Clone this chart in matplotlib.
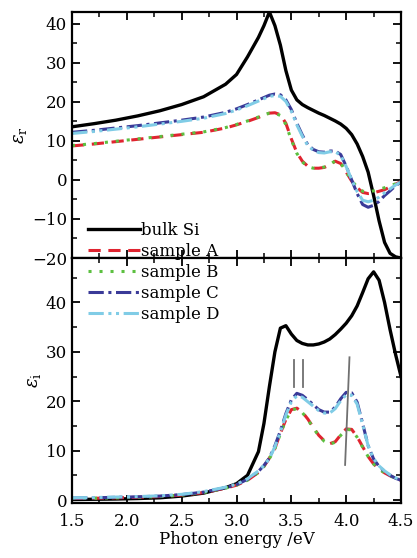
"""Dielectric function of bulk Si and samples A-D (real and imaginary parts)."""

import matplotlib

matplotlib.use("Agg")
import matplotlib.pyplot as plt  # noqa: E402
from matplotlib.ticker import MultipleLocator  # noqa: E402

# photon energy grid (eV) shared by all series
energy = [1.5, 1.7, 1.9, 2.1, 2.3, 2.5, 2.7, 2.9, 3.0, 3.1, 3.2, 3.25, 3.3, 3.35,
          3.4, 3.45, 3.5, 3.55, 3.6, 3.65, 3.7, 3.75, 3.8, 3.85, 3.9, 3.95, 4.0,
          4.05, 4.1, 4.15, 4.2, 4.25, 4.3, 4.35, 4.4, 4.45, 4.5]

# real part
er_bulk = [13.6, 14.4, 15.3, 16.4, 17.7, 19.3, 21.3, 24.5, 27.0, 31.5, 36.5, 39.5, 43.0, 39.5,
           34.5, 28.0, 23.0, 20.5, 19.3, 18.5, 17.8, 17.1, 16.5, 15.8, 15.1, 14.3, 13.2,
           11.6, 9.2, 6.0, 2.0, -4.0, -10.5, -16.0, -18.8, -19.7, -20.0]
er_a = [8.7, 9.2, 9.8, 10.4, 11.0, 11.6, 12.2, 13.3, 14.1, 15.0, 16.0, 16.6, 17.1, 17.2,
        16.7, 14.5, 10.5, 7.0, 4.8, 3.5, 3.0, 3.0, 3.2, 3.8, 4.8, 4.2, 2.0,
        -0.3, -2.0, -3.2, -3.5, -3.3, -2.9, -2.5, -1.8, -1.1, -0.4]
er_b = [8.8, 9.3, 9.9, 10.5, 11.1, 11.7, 12.3, 13.4, 14.2, 15.1, 16.1, 16.7, 17.1, 17.1,
        16.5, 14.2, 10.2, 6.8, 4.6, 3.4, 3.0, 3.0, 3.3, 3.9, 4.9, 4.3, 2.1,
        -0.2, -1.8, -2.9, -3.1, -2.8, -2.4, -2.0, -1.5, -1.0, -0.5]
er_c = [12.2, 12.7, 13.3, 13.9, 14.6, 15.3, 16.1, 17.3, 18.2, 19.3, 20.5, 21.1, 21.7, 22.0,
        21.8, 20.5, 18.0, 14.5, 11.5, 9.0, 7.8, 7.2, 7.1, 7.4, 7.4, 6.5, 3.5,
        0.0, -3.5, -6.3, -7.0, -6.5, -5.5, -4.0, -2.8, -1.5, -0.5]
er_d = [11.9, 12.4, 13.0, 13.6, 14.3, 15.0, 15.8, 17.0, 17.9, 19.0, 20.2, 20.8, 21.4, 21.6,
        21.4, 20.1, 17.6, 14.1, 11.2, 8.8, 7.6, 7.0, 6.9, 7.2, 7.2, 6.3, 3.4,
        0.1, -3.0, -5.2, -5.6, -5.2, -4.4, -3.3, -2.3, -1.3, -0.5]

# imaginary part
ei_bulk = [0.1, 0.15, 0.2, 0.3, 0.45, 0.8, 1.4, 2.5, 3.3, 5.0, 9.8, 15.5, 23.0, 30.0,
           34.8, 35.3, 33.6, 32.3, 31.7, 31.4, 31.4, 31.6, 32.0, 32.6, 33.5, 34.6, 35.8,
           37.3, 39.3, 42.0, 44.8, 46.2, 44.5, 40.0, 34.5, 29.5, 25.0]
ei_a = [0.3, 0.35, 0.45, 0.55, 0.7, 1.0, 1.5, 2.4, 3.0, 4.0, 5.6, 6.8, 8.5, 10.5,
        13.5, 16.3, 18.3, 18.6, 17.8, 16.4, 14.7, 13.1, 12.0, 11.4, 11.8, 13.2, 14.4,
        14.3, 12.8, 10.8, 8.8, 7.3, 6.3, 5.5, 4.9, 4.4, 4.0]
ei_b = [0.3, 0.35, 0.45, 0.55, 0.7, 1.0, 1.5, 2.4, 3.0, 4.0, 5.6, 6.8, 8.4, 10.4,
        13.4, 16.2, 18.2, 18.5, 17.7, 16.3, 14.6, 13.0, 11.9, 11.3, 11.7, 13.1, 14.3,
        14.2, 12.7, 10.7, 8.8, 7.3, 6.3, 5.5, 4.9, 4.4, 4.0]
ei_c = [0.4, 0.45, 0.55, 0.65, 0.8, 1.1, 1.6, 2.5, 3.1, 4.2, 5.8, 7.0, 8.5, 11.0,
        14.0, 17.5, 20.3, 21.6, 21.2, 20.3, 19.3, 18.3, 17.8, 17.8, 18.8, 20.5, 21.8,
        21.7, 19.8, 15.5, 11.0, 8.3, 6.8, 5.8, 5.0, 4.4, 4.0]
ei_d = [0.45, 0.5, 0.6, 0.7, 0.85, 1.15, 1.7, 2.6, 3.2, 4.3, 5.9, 7.0, 8.4, 10.8,
        13.8, 17.2, 19.9, 21.1, 20.8, 19.9, 19.0, 18.1, 17.6, 17.6, 18.5, 20.1, 21.3,
        21.2, 19.4, 15.3, 11.0, 8.4, 6.9, 5.9, 5.1, 4.5, 4.1]

labels = ["bulk Si", "sample A", "sample B", "sample C", "sample D"]

# marker lines in the lower panel: (x0, x1, y0, y1)
marks = [(3.52, 3.52, 22.9, 28.4), (3.61, 3.61, 22.9, 28.4), (3.99, 4.03, 7.1, 28.9)]

plt.rcParams["font.family"] = ["DejaVu Serif"]
plt.rcParams["mathtext.fontset"] = "dejavuserif"

styles = [
    dict(color="black", linewidth=2.4, linestyle="-"),
    dict(color="#e02430", linewidth=2.2, linestyle=(0, (4, 2.5))),
    dict(color="#5cc040", linewidth=2.2, linestyle=(0, (1, 2.6))),
    dict(color="#3a3a98", linewidth=2.2, linestyle=(0, (5, 1.5, 1, 1.5))),
    dict(color="#80cce6", linewidth=2.2, linestyle=(0, (5, 1.5, 1, 1.5, 1, 1.5))),
]

fig = plt.figure(figsize=(4.17, 5.58), dpi=100)
ax1 = fig.add_axes([0.1727, 0.5376, 0.789, 0.4409])
ax2 = fig.add_axes([0.1727, 0.0986, 0.789, 0.439])

handles = []
for series, st in zip([er_bulk, er_a, er_b, er_c, er_d], styles):
    ax1.plot(energy, series, **st)
for series, st, lab in zip([ei_bulk, ei_a, ei_b, ei_c, ei_d], styles, labels):
    (h,) = ax2.plot(energy, series, label=lab, **st)
    handles.append(h)

for x0, x1, y0, y1 in marks:
    ax2.plot([x0, x1], [y0, y1], color="#707070", linewidth=1.3)

ax1.set_xlim(1.5, 4.5)
ax2.set_xlim(1.5, 4.5)
ax1.set_ylim(-20, 43)
ax2.set_ylim(-0.6, 49)
ax1.yaxis.set_major_locator(MultipleLocator(10))
ax1.yaxis.set_minor_locator(MultipleLocator(5))
ax2.yaxis.set_major_locator(MultipleLocator(10))
ax2.yaxis.set_minor_locator(MultipleLocator(5))
for ax in (ax1, ax2):
    ax.xaxis.set_major_locator(MultipleLocator(0.5))
    ax.xaxis.set_minor_locator(MultipleLocator(0.25))
    ax.tick_params(which="both", direction="in", top=True, right=True, labelsize=12)
    ax.tick_params(which="major", length=6, width=1.3)
    ax.tick_params(which="minor", length=3.5, width=1.1)
    for sp in ax.spines.values():
        sp.set_linewidth(1.6)
ax1.tick_params(labelbottom=False)
ax2.tick_params(axis="x", which="major", pad=7)
ax2.xaxis.set_major_formatter(plt.FormatStrFormatter("%.1f"))

ax1.set_ylabel(r"$\varepsilon_{\rm r}$", fontsize=13, labelpad=2)
ax2.set_ylabel(r"$\varepsilon_{\rm i}$", fontsize=13, labelpad=2)
ax2.set_xlabel("Photon energy /eV", fontsize=12, labelpad=1)

leg = fig.legend(handles, labels, loc="upper left", bbox_to_anchor=(0.195, 0.614),
                 frameon=False, fontsize=12, handlelength=3.1, handletextpad=0.1,
                 labelspacing=0.24, borderaxespad=0)
leg.set_zorder(10)

fig.savefig("out.png", dpi=100)
